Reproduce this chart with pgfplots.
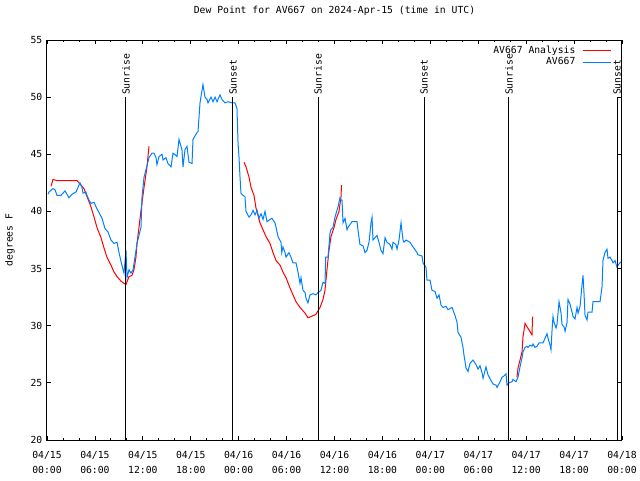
\documentclass[border=0pt]{standalone}
\usepackage{pgfplots}
\pgfplotsset{compat=1.18}
\usepackage{fontspec}
\setmainfont{DejaVu Sans Mono}
\definecolor{av}{RGB}{0,128,255}
\newcommand{\gf}{\fontsize{7.3}{11.25}\selectfont}
\begin{document}
\begin{tikzpicture}
\useasboundingbox (0,0) rectangle (480pt,360pt);
\begin{axis}[
 at={(35.25pt,30pt)}, anchor=south west,
 scale only axis, width=431.25pt, height=300pt,
 xmin=0, xmax=72, ymin=20, ymax=55,
 xtick={0,6,...,72},
 xticklabels={{04/15\\00:00},{04/15\\06:00},{04/15\\12:00},{04/15\\18:00},{04/16\\00:00},{04/16\\06:00},{04/16\\12:00},{04/16\\18:00},{04/17\\00:00},{04/17\\06:00},{04/17\\12:00},{04/17\\18:00},{04/18\\00:00}},
 minor x tick num=2,
 ytick={20,25,...,55},
 tick align=inside,
 major tick length=3pt, minor tick length=1.5pt,
 tick style={black, line width=0.6pt},
 axis line style={line width=0.75pt},
 xticklabel style={align=center, font=\gf, yshift=-5pt},
 yticklabel style={font=\gf},
 /pgf/number format/assume math mode=true,
 title={Dew Point for AV667 on 2024-Apr-15 (time in UTC)},
 title style={font=\gf, at={(axis description cs:0.5,1)}, anchor=center, yshift=15.75pt},
 ylabel={degrees F},
 every axis y label/.style={at={(axis description cs:0,0.5)}, xshift=-27.75pt, rotate=90, anchor=center, font=\gf},
 legend style={at={(rel axis cs:1,1)}, anchor=north east, xshift=-8pt, yshift=-3pt, draw=none, fill=none, inner sep=0pt, row sep=0pt, font=\gf, nodes={inner sep=1pt}},
 legend plot pos=right, legend cell align=right,
 legend image code/.code={\draw[#1, line width=0.75pt] (0pt,0pt) -- (21pt,0pt);},
]
% Analysis (red), segment 1
\addplot[red, line width=0.75pt] coordinates {
(0.50,42.2) (0.75,42.8) (1.25,42.7) (2.13,42.7) (3.76,42.7) (4.26,42.3) (4.63,42.0) (5.01,41.3) (5.51,40.4) (5.89,39.5) (6.26,38.6) (6.76,37.7) (7.14,36.8) (7.51,36.0) (8.01,35.3) (8.39,34.7) (8.77,34.3) (9.27,33.9) (9.64,33.7) (9.89,33.6) (10.27,34.3) (10.64,34.4) (10.89,34.9) (11.14,36.0) (11.27,37.2) (11.52,38.6) (11.77,40.1) (12.15,42.1) (12.52,43.9) (12.77,45.7)
};
\addlegendentry{AV667 Analysis\kern4pt}
\addplot[red, line width=0.75pt, forget plot] coordinates {
(24.67,44.3) (24.92,43.9) (25.30,43.0) (25.55,42.1) (25.92,41.4) (26.17,40.3) (26.67,39.0) (27.05,38.4) (27.42,37.8) (27.92,37.2) (28.30,36.4) (28.68,35.7) (29.18,35.3) (29.55,34.7) (29.93,34.2) (30.43,33.3) (30.80,32.7) (31.18,32.1) (31.68,31.6) (32.31,31.1) (32.68,30.7) (33.06,30.8) (33.68,31.0) (34.19,31.6) (34.56,32.3) (34.81,33.1) (35.06,34.9) (35.31,36.6) (35.56,37.8) (35.94,38.6) (36.19,39.3) (36.56,40.0) (36.82,41.3) (36.88,42.3)
};
\addplot[red, line width=0.75pt, forget plot] coordinates {
(58.85,25.5) (58.98,26.3) (59.23,27.0) (59.48,27.7) (59.60,29.0) (59.86,30.2) (60.11,29.9) (60.48,29.5) (60.73,29.2) (60.80,30.8)
};
% Observations (blue)
\addplot[av, line width=0.75pt] coordinates {
(0.13,41.5) (0.25,41.7) (0.75,42.0) (1.00,41.9) (1.25,41.4) (1.75,41.4) (2.25,41.8) (2.75,41.2) (3.13,41.5) (3.63,41.7) (4.13,42.5) (4.38,42.1) (4.51,41.6) (4.88,41.7) (5.01,41.4) (5.26,41.0) (5.51,40.7) (5.89,40.8) (6.14,40.4) (6.51,39.9) (6.89,39.4) (7.26,38.5) (7.64,38.2) (8.01,37.5) (8.39,37.2) (8.77,37.3) (9.02,36.4) (9.27,35.6) (9.64,34.6) (9.89,36.6) (10.02,34.2) (10.27,34.9) (10.52,34.6) (10.77,34.9) (11.02,36.0) (11.27,37.2) (11.77,38.6) (11.90,41.3) (12.15,43.0) (12.52,44.0) (12.77,44.7) (13.15,45.1) (13.40,45.1) (13.65,44.7) (13.77,44.1) (14.03,44.8) (14.40,45.0) (14.53,44.5) (14.90,44.7) (15.15,44.2) (15.53,43.9) (15.78,45.1) (16.15,44.9) (16.28,44.8) (16.53,46.3) (16.90,45.4) (17.03,43.9) (17.28,45.4) (17.53,45.7) (17.78,44.3) (18.16,44.2) (18.28,46.3) (18.78,46.9) (18.91,47.0) (19.16,49.5) (19.41,50.6) (19.53,51.1) (19.78,50.0) (20.04,49.8) (20.16,49.5) (20.54,50.0) (20.79,49.6) (21.04,50.0) (21.29,49.6) (21.66,50.2) (21.91,49.8) (22.29,49.5) (22.66,49.6) (23.17,49.5) (23.54,49.5) (23.79,49.0) (23.92,46.0) (24.04,44.8) (24.17,43.0) (24.29,41.6) (24.54,41.4) (24.79,41.3) (24.92,40.0) (25.30,39.5) (25.55,39.7) (25.80,40.1) (26.05,39.7) (26.30,40.1) (26.55,39.4) (26.80,39.8) (27.05,39.3) (27.30,40.0) (27.55,39.1) (27.92,39.3) (28.17,39.4) (28.55,39.0) (28.68,38.6) (28.93,37.8) (29.30,37.3) (29.40,36.4) (29.55,36.9) (29.80,36.4) (29.93,36.0) (30.30,36.4) (30.55,36.0) (30.80,35.5) (31.18,35.5) (31.43,34.7) (31.68,33.7) (31.81,34.2) (32.06,33.1) (32.31,32.9) (32.43,32.4) (32.68,32.0) (32.93,32.7) (33.31,32.8) (33.68,32.7) (33.94,32.9) (34.31,33.1) (34.56,33.8) (34.81,33.7) (34.90,36.0) (35.19,36.0) (35.44,38.1) (35.56,38.4) (35.81,38.6) (36.06,39.5) (36.44,40.4) (36.69,41.2) (36.82,41.0) (36.94,41.0) (37.07,39.0) (37.32,39.4) (37.57,38.4) (37.69,38.6) (38.19,39.1) (38.82,39.1) (38.94,38.4) (39.19,37.1) (39.57,37.0) (39.82,36.4) (40.07,36.6) (40.32,37.3) (40.57,39.0) (40.70,39.5) (40.82,37.5) (41.07,37.7) (41.32,37.9) (41.57,37.3) (41.82,36.6) (42.07,36.3) (42.33,37.7) (42.58,37.3) (42.95,37.1) (43.20,36.7) (43.33,37.3) (43.70,37.1) (43.83,36.7) (44.08,37.5) (44.33,39.0) (44.58,37.5) (44.70,37.3) (44.96,37.5) (45.46,37.3) (45.83,36.9) (46.33,36.4) (46.46,36.2) (46.96,36.1) (47.08,35.5) (47.46,35.1) (47.58,34.0) (47.96,34.0) (48.21,33.1) (48.59,33.0) (48.84,32.4) (49.09,32.7) (49.34,31.8) (49.59,31.6) (49.96,31.7) (50.21,31.4) (50.46,31.5) (50.72,31.6) (51.09,30.9) (51.34,30.3) (51.47,29.4) (51.84,29.0) (52.09,28.1) (52.22,27.4) (52.47,26.3) (52.72,26.0) (52.97,26.7) (53.34,27.0) (53.72,26.6) (53.97,26.2) (54.22,26.5) (54.47,25.9) (54.60,25.4) (54.97,26.4) (55.22,25.7) (55.60,25.2) (55.85,24.9) (56.22,24.8) (56.35,24.6) (56.73,25.1) (56.98,25.5) (57.23,25.6) (57.48,25.8) (57.60,24.8) (57.85,25.0) (58.23,25.1) (58.35,25.3) (58.73,25.1) (58.98,25.5) (59.23,26.4) (59.48,27.2) (59.60,27.7) (59.86,28.1) (60.11,28.2) (60.23,28.1) (60.48,28.3) (60.73,28.2) (60.86,28.4) (61.11,28.1) (61.36,28.2) (61.61,28.5) (62.11,28.5) (62.36,28.9) (62.61,29.3) (62.74,28.9) (62.99,28.3) (63.11,27.9) (63.24,29.6) (63.36,30.8) (63.49,30.3) (63.74,29.8) (63.86,30.1) (63.99,31.1) (64.12,32.1) (64.37,31.1) (64.49,30.1) (64.74,29.9) (64.87,29.5) (65.12,30.3) (65.24,32.3) (65.49,31.9) (65.74,31.2) (65.87,30.8) (66.12,30.6) (66.37,31.6) (66.50,31.1) (66.75,31.7) (67.00,33.6) (67.12,34.4) (67.24,32.9) (67.37,30.9) (67.62,30.5) (67.75,31.2) (68.25,31.2) (68.37,32.1) (69.25,32.1) (69.50,33.4) (69.62,35.7) (69.87,36.4) (70.12,36.7) (70.25,35.9) (70.50,36.0) (70.75,35.7) (70.88,35.5) (71.13,35.7) (71.38,35.1) (71.50,35.3) (71.88,35.6)
};
\addlegendentry{AV667\kern4pt}
% Sunrise / sunset markers
\addplot[black, line width=0.75pt, forget plot] coordinates {(9.89,20) (9.89,50)};
\addplot[black, line width=0.75pt, forget plot] coordinates {(23.29,20) (23.29,50)};
\addplot[black, line width=0.75pt, forget plot] coordinates {(33.94,20) (33.94,50)};
\addplot[black, line width=0.75pt, forget plot] coordinates {(47.21,20) (47.21,50)};
\addplot[black, line width=0.75pt, forget plot] coordinates {(57.85,20) (57.85,50)};
\addplot[black, line width=0.75pt, forget plot] coordinates {(71.38,20) (71.38,50)};
\node[rotate=90, anchor=west, font=\gf, inner sep=1.5pt] at (axis cs:9.89,50) {Sunrise};
\node[rotate=90, anchor=west, font=\gf, inner sep=1.5pt] at (axis cs:23.29,50) {Sunset};
\node[rotate=90, anchor=west, font=\gf, inner sep=1.5pt] at (axis cs:33.94,50) {Sunrise};
\node[rotate=90, anchor=west, font=\gf, inner sep=1.5pt] at (axis cs:47.21,50) {Sunset};
\node[rotate=90, anchor=west, font=\gf, inner sep=1.5pt] at (axis cs:57.85,50) {Sunrise};
\node[rotate=90, anchor=west, font=\gf, inner sep=1.5pt] at (axis cs:71.38,50) {Sunset};
\end{axis}
\end{tikzpicture}
\end{document}
